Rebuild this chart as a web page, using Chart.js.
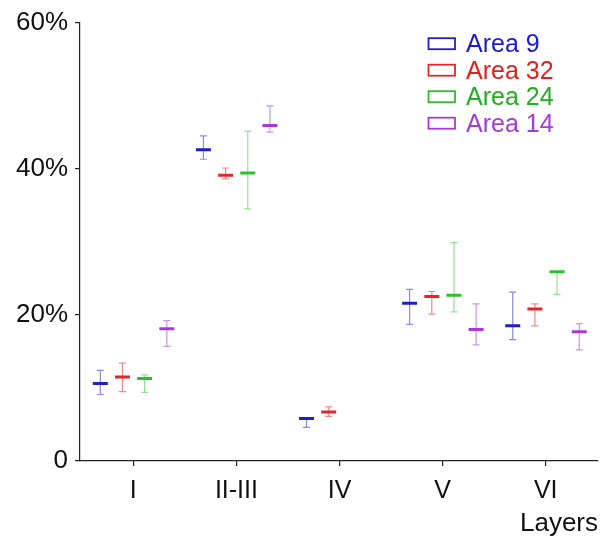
<!DOCTYPE html>
<html>
<head>
<meta charset="utf-8">
<script src="https://cdn.jsdelivr.net/npm/chart.js@4.4.1/dist/chart.umd.min.js"></script>
<style>
    body { margin: 0; background: #fff; }
</style>
</head>
<body>
<canvas id="chart" width="605" height="538"></canvas>
<script>
const categories = ["I", "II-III", "IV", "V", "VI"];
const areaNames = ["Area 9", "Area 32", "Area 24", "Area 14"];

// mean and error range per layer (percent)
const area9Mean = [10.6, 42.6, 5.8, 21.6, 18.5];
const area9Low = [9.1, 41.3, 4.6, 18.7, 16.6];
const area9High = [12.4, 44.5, 5.8, 23.5, 23.1];

const area32Mean = [11.5, 39.1, 6.7, 22.5, 20.8];
const area32Low = [9.5, 38.6, 6.1, 20.1, 18.5];
const area32High = [13.4, 40.1, 7.4, 23.2, 21.5];

const area24Mean = [11.3, 39.4, null, 22.7, 25.9];
const area24Low = [9.4, 34.5, null, 20.4, 22.8];
const area24High = [11.8, 45.1, null, 29.9, 25.9];

const area14Mean = [18.1, 45.9, null, 18.0, 17.7];
const area14Low = [15.7, 45.0, null, 15.9, 15.2];
const area14High = [19.2, 48.6, null, 21.5, 18.8];

const yTicks = [0, 20, 40, 60];

const series = [
    { mean: area9Mean, low: area9Low, high: area9High },
    { mean: area32Mean, low: area32Low, high: area32High },
    { mean: area24Mean, low: area24Low, high: area24High },
    { mean: area14Mean, low: area14Low, high: area14High },
];

const palette = [
    { line: "#1f1fc8", err: "rgba(40, 40, 200, 0.55)", text: "#1a1ad0" },
    { line: "#e02828", err: "rgba(224, 40, 40, 0.55)", text: "#e4201c" },
    { line: "#2cc02c", err: "rgba(44, 192, 44, 0.5)", text: "#1fb01f" },
    { line: "#a838d8", err: "rgba(168, 56, 216, 0.55)", text: "#a33cd6" },
];

const groupOffsets = [-0.32, -0.105, 0.11, 0.325];
const fontFamily = "'Liberation Sans', Arial, sans-serif";

const datasets = series.map((s, k) => ({
    label: areaNames[k],
    data: categories
        .map((c, i) => (s.mean[i] == null ? null : { x: i + 1 + groupOffsets[k], y: s.mean[i], low: s.low[i], high: s.high[i] }))
        .filter((p) => p),
    pointStyle: "line",
    pointRadius: 7.5,
    pointHoverRadius: 7.5,
    borderWidth: 3,
    pointBorderWidth: 3,
    borderColor: palette[k].line,
    backgroundColor: palette[k].line,
    errColor: palette[k].err,
    textColor: palette[k].text,
}));

const errorBars = {
    id: "errorBars",
    beforeDatasetsDraw(chart) {
        const { ctx, scales: { x, y } } = chart;
        ctx.save();
        ctx.lineWidth = 1.2;
        chart.data.datasets.forEach((ds) => {
            ctx.strokeStyle = ds.errColor;
            ds.data.forEach((p) => {
                const px = x.getPixelForValue(p.x);
                const top = y.getPixelForValue(p.high);
                const bot = y.getPixelForValue(p.low);
                ctx.beginPath();
                ctx.moveTo(px, top);
                ctx.lineTo(px, bot);
                ctx.moveTo(px - 3.5, top);
                ctx.lineTo(px + 3.5, top);
                ctx.moveTo(px - 3.5, bot);
                ctx.lineTo(px + 3.5, bot);
                ctx.stroke();
            });
        });
        ctx.restore();
    },
};

const boxLegend = {
    id: "boxLegend",
    afterDraw(chart) {
        const { ctx } = chart;
        ctx.save();
        ctx.font = "25px " + fontFamily;
        ctx.textBaseline = "alphabetic";
        chart.data.datasets.forEach((ds, k) => {
            const cy = 43.7 + k * 26.5;
            ctx.strokeStyle = ds.borderColor;
            ctx.lineWidth = 1.8;
            ctx.strokeRect(428.5, cy - 5.5, 26.5, 11);
            ctx.fillStyle = ds.textColor;
            ctx.fillText(ds.label, 466, cy + 8.5);
        });
        ctx.restore();
    },
};

new Chart(document.getElementById("chart"), {
    type: "scatter",
    data: { datasets },
    plugins: [errorBars, boxLegend],
    options: {
        responsive: false,
        animation: false,
        layout: { autoPadding: false, padding: { top: 21, right: 7, left: 0, bottom: 0 } },
        plugins: { legend: { display: false }, tooltip: { enabled: false } },
        scales: {
            x: {
                type: "linear",
                min: 0.483,
                max: 5.507,
                afterBuildTicks: (scale) => {
                    scale.ticks = categories.map((c, i) => ({ value: i + 1 }));
                },
                afterFit: (scale) => { scale.height = 77; },
                ticks: {
                    callback: (v) => categories[v - 1] ?? "",
                    color: "#111",
                    font: { family: fontFamily, size: 25 },
                    padding: 10,
                    maxRotation: 0,
                },
                grid: { drawOnChartArea: false, tickLength: 5, color: "#222", lineWidth: 1.2 },
                border: { color: "#222", width: 1.2 },
                title: {
                    display: true,
                    text: "Layers",
                    align: "end",
                    color: "#111",
                    font: { family: fontFamily, size: 26, lineHeight: 1 },
                    padding: { top: 0, bottom: 1 },
                },
            },
            y: {
                min: 0,
                max: 60,
                afterBuildTicks: (scale) => {
                    scale.ticks = yTicks.map((v) => ({ value: v }));
                },
                afterFit: (scale) => { scale.width = 80; },
                ticks: {
                    callback: (v) => (v === 0 ? "0" : v + "%"),
                    color: "#111",
                    font: { family: fontFamily, size: 26 },
                    padding: 7,
                },
                grid: { drawOnChartArea: false, tickLength: 5, color: "#222", lineWidth: 1.2 },
                border: { color: "#222", width: 1.2 },
            },
        },
    },
});
</script>
</body>
</html>
